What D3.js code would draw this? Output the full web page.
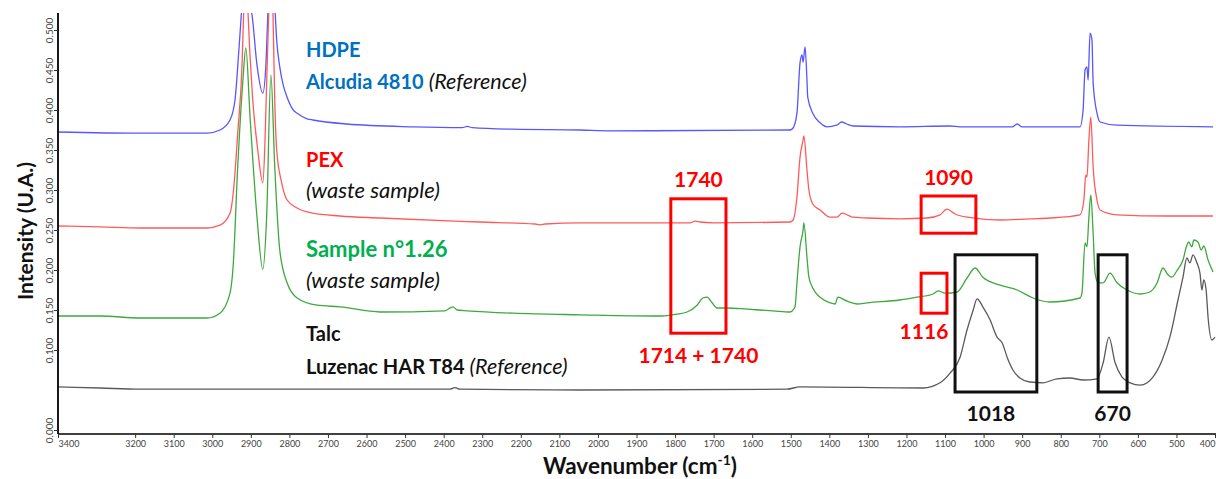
<!DOCTYPE html>
<html>
<head>
<meta charset="utf-8">
<script src="https://cdn.jsdelivr.net/npm/d3@7"></script>
<style>
    body { margin: 0; background: white; }
    svg { display: block; font-family: Lato, "Open Sans", sans-serif; }
</style>
</head>
<body>
<svg id="ftir-chart"></svg>
<script>
//spectra: [wavenumber (cm-1), intensity]
const hdpe = [
    [3400, 0.3725], [3187, 0.371], [3014, 0.371], [2980, 0.375], [2954, 0.3875], [2941, 0.4125],
    [2931, 0.475], [2923, 0.531], [2913, 0.60], [2902, 0.531], [2897, 0.519], [2884, 0.456],
    [2869, 0.421], [2861, 0.456], [2856, 0.519], [2848, 0.60], [2838, 0.531], [2833, 0.4875],
    [2825, 0.454], [2816, 0.431], [2806, 0.416], [2790, 0.40], [2780, 0.396], [2754, 0.389],
    [2739, 0.3875], [2651, 0.3825], [2480, 0.379], [2352, 0.378], [2339, 0.3795], [2326, 0.378],
    [2220, 0.376], [2046, 0.375], [1968, 0.374], [1502, 0.375], [1494, 0.3775], [1484, 0.396],
    [1476, 0.459], [1471, 0.469], [1468, 0.46], [1463, 0.479], [1458, 0.4375], [1456, 0.416],
    [1443, 0.396], [1424, 0.384], [1406, 0.379], [1381, 0.381], [1368, 0.385], [1355, 0.3825],
    [1338, 0.38], [1217, 0.379], [1087, 0.38], [1061, 0.379], [926, 0.379], [913, 0.3825],
    [900, 0.379], [750, 0.379], [742, 0.40], [737, 0.45], [732, 0.454], [729, 0.4375],
    [724, 0.496], [719, 0.4875], [716, 0.434], [706, 0.396], [698, 0.385], [654, 0.381],
    [405, 0.379]
];

const pex = [
    [3400, 0.255], [3291, 0.254], [3187, 0.2525], [3014, 0.2525], [2980, 0.256], [2954, 0.271],
    [2944, 0.304], [2934, 0.371], [2923, 0.454], [2918, 0.531], [2913, 0.61], [2908, 0.531],
    [2895, 0.4125], [2882, 0.35], [2869, 0.309], [2864, 0.35], [2859, 0.434], [2853, 0.531],
    [2848, 0.61], [2843, 0.531], [2838, 0.4125], [2833, 0.35], [2820, 0.309], [2806, 0.2875],
    [2780, 0.2775], [2739, 0.271], [2669, 0.2675], [2565, 0.265], [2306, 0.26], [2163, 0.2575],
    [2150, 0.2565], [2137, 0.2575], [2046, 0.259], [1761, 0.259], [1748, 0.261], [1735, 0.26],
    [1702, 0.259], [1502, 0.26], [1494, 0.2625], [1484, 0.291], [1476, 0.341], [1468, 0.3625],
    [1466, 0.3675], [1458, 0.325], [1453, 0.30], [1443, 0.2825], [1424, 0.275], [1398, 0.266],
    [1380, 0.266], [1367, 0.271], [1354, 0.269], [1339, 0.266], [1302, 0.265], [1217, 0.264],
    [1147, 0.265], [1113, 0.269], [1095, 0.276], [1074, 0.27], [1043, 0.266], [957, 0.2625],
    [880, 0.264], [828, 0.265], [750, 0.269], [740, 0.2875], [735, 0.319], [732, 0.316],
    [727, 0.3625], [722, 0.391], [716, 0.329], [706, 0.2875], [698, 0.275], [654, 0.269],
    [524, 0.2675], [405, 0.2675]
];

const sample126 = [
    [3400, 0.1425], [3291, 0.1425], [3187, 0.14], [3014, 0.14], [2980, 0.146], [2954, 0.171],
    [2946, 0.204], [2934, 0.329], [2921, 0.434], [2913, 0.4775], [2902, 0.391], [2884, 0.266],
    [2869, 0.201], [2859, 0.266], [2848, 0.444], [2838, 0.329], [2825, 0.225], [2806, 0.184],
    [2780, 0.165], [2728, 0.156], [2669, 0.154], [2565, 0.1475], [2397, 0.149], [2376, 0.154],
    [2365, 0.15], [2339, 0.149], [2220, 0.146], [2046, 0.144], [1839, 0.1425], [1808, 0.144],
    [1769, 0.1475], [1743, 0.156], [1728, 0.165], [1717, 0.166], [1704, 0.159], [1691, 0.1525],
    [1665, 0.1525], [1613, 0.151], [1546, 0.149], [1502, 0.1475], [1489, 0.154], [1484, 0.184],
    [1476, 0.229], [1468, 0.25], [1466, 0.259], [1458, 0.216], [1453, 0.191], [1443, 0.1775],
    [1424, 0.166], [1398, 0.159], [1385, 0.1575], [1378, 0.166], [1354, 0.161], [1328, 0.1575],
    [1302, 0.159], [1217, 0.1625], [1173, 0.166], [1131, 0.17], [1118, 0.174], [1100, 0.171],
    [1069, 0.1725], [1043, 0.19], [1022, 0.2025], [1002, 0.191], [957, 0.181], [913, 0.175],
    [872, 0.165], [828, 0.16], [750, 0.165], [745, 0.171], [737, 0.234], [732, 0.229],
    [727, 0.266], [722, 0.294], [716, 0.246], [711, 0.196], [703, 0.184], [690, 0.184],
    [672, 0.196], [654, 0.184], [628, 0.175], [594, 0.17], [569, 0.1725], [550, 0.184],
    [535, 0.2025], [522, 0.194], [512, 0.191], [499, 0.199], [483, 0.2125], [473, 0.231],
    [468, 0.235], [460, 0.229], [455, 0.2375], [444, 0.235], [436, 0.225], [429, 0.23],
    [418, 0.2125], [405, 0.1975]
];

const talc = [
    [3400, 0.054], [3291, 0.0525], [3187, 0.051], [2384, 0.051], [2371, 0.053], [2358, 0.051],
    [2046, 0.05], [1510, 0.051], [1476, 0.054], [1157, 0.0525], [1113, 0.059], [1087, 0.071],
    [1061, 0.091], [1043, 0.125], [1027, 0.15], [1017, 0.164], [1002, 0.154], [983, 0.1375],
    [965, 0.116], [952, 0.109], [939, 0.091], [924, 0.075], [906, 0.065], [880, 0.06],
    [846, 0.059], [810, 0.064], [776, 0.065], [742, 0.0625], [706, 0.064], [690, 0.084],
    [675, 0.116], [659, 0.084], [641, 0.066], [620, 0.059], [594, 0.056], [576, 0.059],
    [561, 0.066], [537, 0.0875], [517, 0.116], [496, 0.1625], [483, 0.191], [473, 0.215],
    [465, 0.209], [457, 0.219], [447, 0.209], [439, 0.196], [434, 0.175], [429, 0.1875],
    [423, 0.175], [418, 0.141], [408, 0.1125], [400, 0.116]
];

const xTickValues = [3400, 3200, 3100, 3000, 2900, 2800, 2700, 2600, 2500, 2400, 2300, 2200,
    2100, 2000, 1900, 1800, 1700, 1600, 1500, 1400, 1300, 1200, 1100, 1000, 900, 800, 700, 600, 500, 400];
const yTickValues = [0, 0.1, 0.15, 0.2, 0.25, 0.3, 0.35, 0.4, 0.45, 0.5];

//highlighted bands: [wn from, wn to, intensity low, intensity high]
const redBoxes = [
    [1811, 1668, 0.121, 0.289],
    [1162, 1020, 0.246, 0.2925],
    [1162, 1095, 0.146, 0.196]
];
const blackBoxes = [
    [1074, 862, 0.0475, 0.219],
    [703, 628, 0.0475, 0.219]
];

const width = 1216;
const height = 479;

const svg = d3.select("#ftir-chart")
    .attr("width", width)
    .attr("height", height)
    .style("background", "white");

//scales
const xScale = d3.scaleLinear()
    .domain([3400, 400])
    .range([58, 1215]);

const yScale = d3.scaleLinear()
    .domain([-0.005, 0.52125])
    .range([434, 13]);

svg.append("clipPath")
    .attr("id", "plot-clip")
    .append("rect")
    .attr("x", 58)
    .attr("y", 13)
    .attr("width", width - 58)
    .attr("height", 421);

//spectra
const line = d3.line()
    .x(d => xScale(d[0]))
    .y(d => yScale(d[1]))
    .curve(d3.curveMonotoneX);

const spectra = [
    { data: hdpe, color: "#5757ff" },
    { data: pex, color: "#ff5a5a" },
    { data: sample126, color: "#3fa83f" },
    { data: talc, color: "#5a5a5a" }
];

const plot = svg.append("g").attr("clip-path", "url(#plot-clip)");

spectra.forEach(s => {
    plot.append("path")
        .datum(s.data)
        .attr("d", line)
        .style("fill", "none")
        .style("stroke", s.color)
        .style("stroke-width", 1.3)
        .style("stroke-linejoin", "round");
});

//axes
const xAxis = d3.axisBottom(xScale)
    .tickValues(xTickValues)
    .tickSize(4)
    .tickPadding(3)
    .tickFormat(d3.format("d"));

const xAxisGroup = svg.append("g")
    .attr("transform", `translate(0,${yScale(-0.005)})`)
    .style("font-size", "9px")
    .style("font-family", "Lato, sans-serif");

xAxis(xAxisGroup);
xAxisGroup.select(".domain").attr("d", `M58,0H${width}`).style("stroke-width", 1.6);
xAxisGroup.selectAll(".tick line").style("stroke", "#333");
xAxisGroup.selectAll(".tick text").style("fill", "#444");
//first label starts at its tick, last one ends at the window edge
xAxisGroup.selectAll(".tick text")
    .filter(d => d === 3400)
    .attr("text-anchor", "start")
    .attr("x", 0);
xAxisGroup.selectAll(".tick text")
    .filter(d => d === 400)
    .attr("text-anchor", "end")
    .attr("x", 0);

const yAxis = d3.axisLeft(yScale)
    .tickValues(yTickValues)
    .tickSize(4)
    .tickFormat(d3.format(".3f"));

const yAxisGroup = svg.append("g")
    .attr("transform", `translate(${xScale(3400)},0)`)
    .style("font-size", "10px")
    .style("font-family", "Lato, sans-serif");

yAxis(yAxisGroup);
yAxisGroup.select(".domain").attr("d", `M0,${yScale(0.52125)}V${yScale(-0.005)}`).style("stroke-width", 1.8);
yAxisGroup.selectAll(".tick line").style("stroke", "#333");
yAxisGroup.selectAll(".tick text")
    .attr("x", null)
    .attr("dy", null)
    .attr("text-anchor", "middle")
    .attr("transform", "translate(-5,0) rotate(-90)")
    .style("fill", "#444");

//axis labels
const xLabel = svg.append("text")
    .attr("x", 640)
    .attr("y", 474)
    .attr("text-anchor", "middle")
    .style("font-size", "22.5px")
    .style("font-weight", "bold")
    .style("fill", "#111");
xLabel.append("tspan").text("Wavenumber (cm");
xLabel.append("tspan").text("-1").attr("dy", -9).style("font-size", "14px");
xLabel.append("tspan").text(")").attr("dy", 9);

svg.append("text")
    .attr("transform", "translate(33,231) rotate(-90)")
    .attr("text-anchor", "middle")
    .style("font-size", "21px")
    .style("font-weight", "bold")
    .style("fill", "#111")
    .text("Intensity (U.A.)");

//sample names: [text, colour, bold, size]
function addName(y, parts) {
    const t = svg.append("text")
        .attr("x", 306)
        .attr("y", y);
    parts.forEach(p => {
        t.append("tspan")
            .text(p[0])
            .style("fill", p[1])
            .style("font-size", p[3] + "px")
            .style("font-weight", p[2] ? "bold" : "normal")
            .style("font-style", p[2] ? "normal" : "italic");
    });
}

addName(57, [["HDPE", "#0070c0", true, 20]]);
addName(89, [["Alcudia 4810", "#0070c0", true, 20], [" (Reference)", "#111", false, 21.5]]);
addName(167, [["PEX", "#ff0000", true, 20]]);
addName(198, [["(waste sample)", "#111", false, 22]]);
addName(257, [["Sample n°1.26", "#00b050", true, 22]]);
addName(288, [["(waste sample)", "#111", false, 22]]);
addName(341, [["Talc", "#111", true, 20]]);
addName(374, [["Luzenac HAR T84", "#111", true, 20], [" (Reference)", "#111", false, 21.5]]);

//boxes round the bands
function drawBox(b, color) {
    const x0 = xScale(b[0]);
    const x1 = xScale(b[1]);
    const y0 = yScale(b[3]);
    const y1 = yScale(b[2]);
    svg.append("rect")
        .attr("x", x0)
        .attr("y", y0)
        .attr("width", x1 - x0)
        .attr("height", y1 - y0)
        .style("fill", "none")
        .style("stroke", color)
        .style("stroke-width", 3);
    return { x0, x1, y0, y1, cx: (x0 + x1) / 2 };
}

function bandLabel(x, y, text, color) {
    svg.append("text")
        .attr("x", x)
        .attr("y", y)
        .attr("text-anchor", "middle")
        .style("font-size", "21px")
        .style("font-weight", "bold")
        .style("fill", color)
        .text(text);
}

const b1740 = drawBox(redBoxes[0], "#ff0000");
bandLabel(b1740.cx, b1740.y0 - 12, "1740", "#ff0000");
bandLabel(b1740.cx, b1740.y1 + 30, "1714 + 1740", "#ff0000");

const b1090 = drawBox(redBoxes[1], "#ff0000");
bandLabel(b1090.cx, b1090.y0 - 11, "1090", "#ff0000");

const b1116 = drawBox(redBoxes[2], "#ff0000");
bandLabel(b1116.x1 - 23, b1116.y1 + 26, "1116", "#ff0000");

const b1018 = drawBox(blackBoxes[0], "#111");
bandLabel(b1018.cx - 5, b1018.y1 + 29, "1018", "#111");

const b670 = drawBox(blackBoxes[1], "#111");
bandLabel(b670.cx, b670.y1 + 29, "670", "#111");
</script>
</body>
</html>
